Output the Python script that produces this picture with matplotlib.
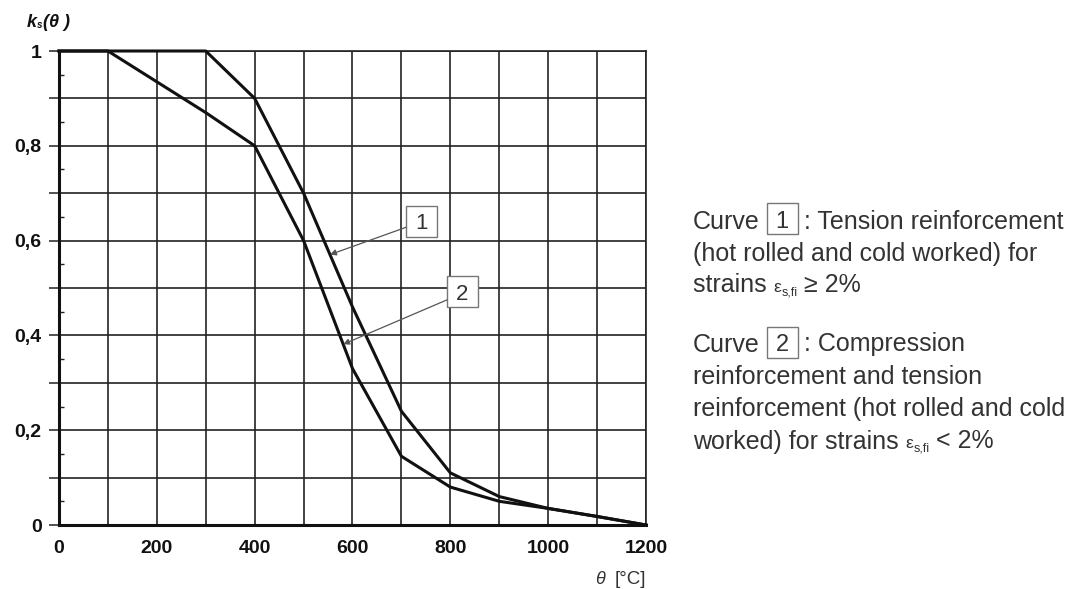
import numpy as np
import matplotlib
matplotlib.use("Agg")
import matplotlib.pyplot as plt
from matplotlib.patches import Rectangle

# ---------------- data ----------------
theta = [0, 100, 200, 300, 400, 500, 600, 700, 800, 900, 1000, 1100, 1200]
curve1 = [1.0, 1.0, 1.0, 1.0, 0.90, 0.70, 0.46, 0.24, 0.11, 0.06, 0.035, 0.018, 0.0]
curve2 = [1.0, 1.0, 0.935, 0.87, 0.80, 0.60, 0.33, 0.145, 0.08, 0.05, 0.035, 0.018, 0.0]
x_ticks = list(range(0, 1201, 100))
x_ticklabels = [str(v) if v % 200 == 0 else "" for v in x_ticks]
y_ticks = [round(0.1 * i, 1) for i in range(11)]
y_ticklabels = ["0", "", "0,2", "", "0,4", "", "0,6", "", "0,8", "", "1"]

W, H = 1089, 589
FAM = ["Liberation Sans", "DejaVu Sans"]
plt.rcParams["font.family"] = FAM

fig = plt.figure(figsize=(W / 100, H / 100), dpi=100)
fig.patch.set_facecolor("white")


def fx(px):
    return px / W


def fy(py):
    return 1 - py / H


ax = fig.add_axes([fx(59), fy(525), (646 - 59) / W, (525 - 51) / H])
ax.set_xlim(0, 1200)
ax.set_ylim(0, 1)

ax.plot(theta, curve1, color="#111111", lw=2.2, clip_on=False, zorder=4)
ax.plot(theta, curve2, color="#111111", lw=2.2, clip_on=False, zorder=4)

ax.set_xticks(x_ticks)
ax.set_xticklabels(x_ticklabels, fontsize=14, fontweight="bold", color="#111111")
ax.set_yticks(y_ticks)
ax.set_yticklabels(y_ticklabels, fontsize=14, fontweight="bold", color="#111111")
ax.tick_params(axis="x", length=0, pad=10.5)
ax.tick_params(axis="y", which="major", length=7.5, width=1.1, color="#222222", pad=5, direction="out")
ax.set_yticks([0.05 + 0.1 * i for i in range(10)], minor=True)
ax.tick_params(axis="y", which="minor", length=3.5, width=1.0, direction="in", color="#222222")
ax.set_xticks([0], minor=True)
ax.tick_params(axis="x", which="minor", length=6, width=1.5, direction="out", color="#111111")

ax.grid(True, which="major", color="#222222", lw=1.2, zorder=1)
ax.set_axisbelow(True)
for s in ["left", "bottom"]:
    ax.spines[s].set_linewidth(2.2)
    ax.spines[s].set_color("#111111")
for s in ["top", "right"]:
    ax.spines[s].set_linewidth(1.2)
    ax.spines[s].set_color("#222222")

# ---------------- curve labels with arrows ----------------
TXT = "#333333"


def boxed_label(label, cx, cy, w, h, tail, head_theta, curve):
    ax.add_patch(Rectangle((cx - w / 2, cy - h / 2), w, h, fill=True, fc="white",
                           ec="#777777", lw=1.0, zorder=5))
    ax.text(cx, cy, label, fontsize=16, ha="center", va="center_baseline", color=TXT, zorder=6)
    head = (head_theta, float(np.interp(head_theta, theta, curve)))
    ax.annotate("", xy=head, xytext=tail,
                arrowprops=dict(arrowstyle="-|>", color="#555555", lw=0.9,
                                mutation_scale=9, shrinkA=0, shrinkB=0), zorder=5)


bw, bh = 63.4, 0.0654
boxed_label("1", 741, 0.641, bw, bh, (741 - bw / 2, 0.628), 554, curve1)
boxed_label("2", 825, 0.492, bw, bh, (825 - bw / 2, 0.475), 581, curve2)

# ---------------- axis titles ----------------
fig.text(fx(27), fy(27), "k", fontsize=13, fontweight="bold", style="italic", color="#111111")
fig.text(fx(37), fy(28), "s", fontsize=7, fontweight="bold", style="italic", color="#111111")
fig.text(fx(43), fy(27), "(θ )", fontsize=13, fontweight="bold", style="italic", color="#111111")

fig.text(fx(595), fy(584), "θ", fontsize=13, style="italic", color=TXT)
fig.text(fx(615), fy(584), "[°C]", fontsize=13.5, color=TXT)

# ---------------- right-hand description ----------------
fig.canvas.draw()
renderer = fig.canvas.get_renderer()
FS = 18


def put(xpx, base, s, size=FS, dy=0):
    t = fig.text(fx(xpx), fy(base + dy), s, fontsize=size, color=TXT, va="baseline")
    bb = t.get_window_extent(renderer=renderer)
    return bb.x1


def put_box(xpx, base, label):
    x0 = xpx + 7
    fig.add_artist(Rectangle((fx(x0), fy(base + 6)), 31 / W, 31 / H, transform=fig.transFigure,
                             fill=False, ec="#777777", lw=1.0))
    fig.text(fx(x0 + 15.5), fy(base - 0.5), label, fontsize=FS - 1, color=TXT,
             ha="center", va="baseline")
    return x0 + 31 + 6


X0 = 693
lines_base = [228.5, 260.5, 292.5, 351.5, 383.5, 416, 448.5]

x = put(X0, lines_base[0], "Curve")
x = put_box(x, lines_base[0], "1")
put(x, lines_base[0], ": Tension reinforcement")
put(X0, lines_base[1], "(hot rolled and cold worked) for")
x = put(X0, lines_base[2], "strains ")
x = put(x, lines_base[2], "ε", size=12.5)
x = put(x, lines_base[2], "s,fi", size=9, dy=3)
put(x, lines_base[2], " ≥ 2%")

x = put(X0, lines_base[3], "Curve")
x = put_box(x, lines_base[3], "2")
put(x, lines_base[3], ": Compression")
put(X0, lines_base[4], "reinforcement and tension")
put(X0, lines_base[5], "reinforcement (hot rolled and cold")
x = put(X0, lines_base[6], "worked) for strains ")
x = put(x, lines_base[6], "ε", size=12.5)
x = put(x, lines_base[6], "s,fi", size=9, dy=3)
put(x, lines_base[6], " < 2%")

fig.savefig("out.png", dpi=100, facecolor="white")
